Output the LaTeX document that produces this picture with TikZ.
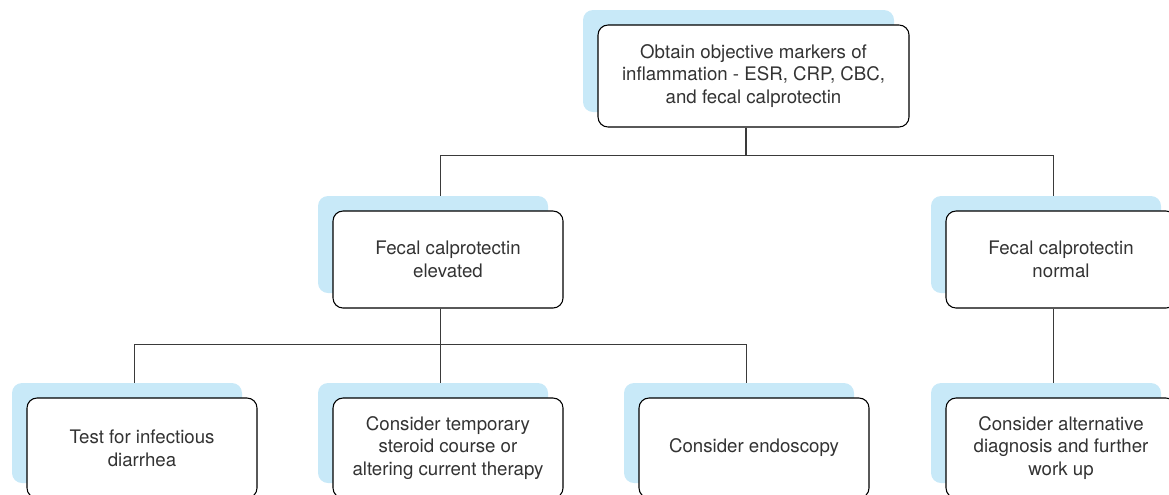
\documentclass[tikz,border=0pt]{standalone}
\usepackage{fontspec}
\setmainfont{TeX Gyre Heros}
\usetikzlibrary{shadows,backgrounds}
\definecolor{shadowblue}{HTML}{C8E9F8}
\definecolor{textgray}{HTML}{333333}
\definecolor{linegray}{HTML}{3A3A3A}
\begin{document}
\begin{tikzpicture}[x=0.75pt,y=-0.75pt,
		box/.style={draw=black, line width=0.8pt, fill=white, rounded corners=7.5pt,
			minimum width=172.5pt, minimum height=75pt, inner sep=0pt, align=center,
			text=textgray, font=\fontsize{14}{17}\selectfont,
			copy shadow={shadow xshift=-11.25pt, shadow yshift=11.25pt, fill=shadowblue, draw=none}},
		link/.style={draw=linegray, line width=0.9pt}]
	\useasboundingbox (0,0) rectangle (1169,494);
	\clip (0,0) rectangle (1169,494);
	% first level
	\node [box, minimum width=233.25pt, minimum height=76.5pt] (markers) at (753.5,76) {Obtain objective markers of\\inflammation - ESR, CRP, CBC,\\and fecal calprotectin};
	% second level
	\node [box, minimum height=72.75pt] (elevated) at (448,259.5) {Fecal calprotectin\\elevated};
	\node [box, minimum height=72.75pt] (normal) at (1061,259.5) {Fecal calprotectin\\normal};
	% third level
	\node [box] (infect) at (142,448) {Test for infectious\\diarrhea};
	\node [box] (steroid) at (448,448) {Consider temporary\\steroid course or\\altering current therapy};
	\node [box] (endo) at (754,448) {Consider endoscopy};
	\node [box] (altdx) at (1061,448) {Consider alternative\\diagnosis and further\\work up};
	% connectors
	\begin{scope}[on background layer]
		\draw [link] ([xshift=-5.625pt]markers.south) -- ++(0,28) -| ([xshift=-5.625pt]elevated.north);
		\draw [link] ([xshift=-5.625pt]markers.south) -- ++(0,28) -| ([xshift=-5.625pt]normal.north);
		\draw [link] ([xshift=-5.625pt]elevated.south) -- ++(0,36) -| ([xshift=-5.625pt]infect.north);
		\draw [link] ([xshift=-5.625pt]elevated.south) -- ++(0,36) -| ([xshift=-5.625pt]endo.north);
		\draw [link] ([xshift=-5.625pt]elevated.south) -- ([xshift=-5.625pt]steroid.north);
		\draw [link] ([xshift=-5.625pt]normal.south) -- ([xshift=-5.625pt]altdx.north);
	\end{scope}
\end{tikzpicture}
\end{document}
